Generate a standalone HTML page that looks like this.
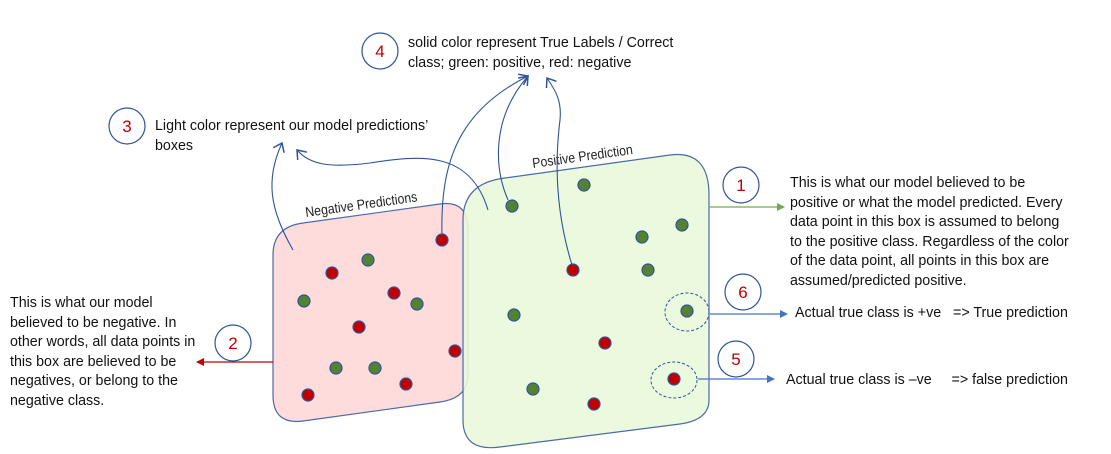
<!DOCTYPE html>
<html><head><meta charset="utf-8"><style>
body{margin:0;background:#fff;width:1111px;height:454px;overflow:hidden;font-family:"Liberation Sans",sans-serif}
.t{position:absolute;font-size:15px;line-height:19.5px;color:#111;white-space:nowrap;transform:scaleX(0.95);transform-origin:0 0}
</style></head><body>
<svg width="1111" height="454" style="position:absolute;left:0;top:0">
<defs>
<marker id="ab" markerWidth="8" markerHeight="8" refX="7" refY="4" orient="auto" markerUnits="userSpaceOnUse"><path d="M0,0 L8,4 L0,8 Z" fill="#4472c4"/></marker>
<marker id="ag" markerWidth="8" markerHeight="8" refX="7" refY="4" orient="auto" markerUnits="userSpaceOnUse"><path d="M0,0 L8,4 L0,8 Z" fill="#70ad47"/></marker>
<marker id="ar" markerWidth="8" markerHeight="8" refX="7" refY="4" orient="auto" markerUnits="userSpaceOnUse"><path d="M0,0 L8,4 L0,8 Z" fill="#c00000"/></marker>
<marker id="open" markerWidth="14" markerHeight="14" refX="10" refY="7" orient="auto" markerUnits="userSpaceOnUse"><path d="M2,1 L10,7 L2,13" fill="none" stroke="#2f5597" stroke-width="1.5"/></marker>
</defs>
<path d="M303,223 L440,204 Q468,200 468,230 L468,375 Q468,398 440,402 L303,421 Q273,425 273,395 L273,255 Q273,227 303,223 Z" fill="#ffdcdc" stroke="#4a6aa8" stroke-width="1.2"/>
<path d="M505,178 L670,155 Q709,150 709,195 L709,400 Q709,420 680,424 L500,447 Q463,452 463,420 L463,220 Q463,183 505,178 Z" fill="#e9f8dc" stroke="#4a6aa8" stroke-width="1.2" fill-opacity="0.9"/>
<text x="0" y="0" font-size="14" fill="#222" transform="translate(306,217) rotate(-8) scale(0.88,1)">Negative Predictions</text>
<text x="0" y="0" font-size="14" fill="#222" transform="translate(533,168) rotate(-8) scale(0.88,1)">Positive Prediction</text>
<g stroke="#2f5597" stroke-width="1.2" fill="#c00000">
<circle cx="442" cy="240" r="6"/><circle cx="332" cy="273" r="6"/><circle cx="394" cy="293" r="6"/><circle cx="359" cy="327" r="6"/><circle cx="455" cy="351" r="6"/><circle cx="406" cy="384" r="6"/><circle cx="308" cy="395" r="6"/><circle cx="573" cy="270" r="6"/><circle cx="605" cy="343" r="6"/><circle cx="594" cy="404" r="6"/><circle cx="674" cy="379" r="6"/>
</g>
<g stroke="#2f5597" stroke-width="1.2" fill="#548235">
<circle cx="368" cy="260" r="6"/><circle cx="304" cy="301" r="6"/><circle cx="417" cy="304" r="6"/><circle cx="336" cy="368" r="6"/><circle cx="375" cy="368" r="6"/><circle cx="512" cy="206" r="6"/><circle cx="584" cy="185" r="6"/><circle cx="642" cy="237" r="6"/><circle cx="682" cy="225" r="6"/><circle cx="648" cy="270" r="6"/><circle cx="514" cy="315" r="6"/><circle cx="533" cy="389" r="6"/><circle cx="687" cy="311" r="6"/>
</g>
<ellipse cx="687" cy="312" rx="22" ry="19" fill="none" stroke="#2f5597" stroke-dasharray="3,2"/>
<ellipse cx="674" cy="380" rx="23" ry="18" fill="none" stroke="#2f5597" stroke-dasharray="3,2"/>
<g fill="#fff" stroke="#2f5597" stroke-width="1.2">
<circle cx="741" cy="185" r="18"/><circle cx="233" cy="343" r="18"/><circle cx="127" cy="126" r="18"/><circle cx="380" cy="51" r="18"/><circle cx="736" cy="359" r="18"/><circle cx="743" cy="292" r="18"/>
</g>
<g fill="#c00000" font-size="17" text-anchor="middle">
<text x="741" y="191">1</text><text x="233" y="349">2</text><text x="127" y="132">3</text><text x="380" y="57">4</text><text x="736" y="365">5</text><text x="743" y="298">6</text>
</g>
<line x1="709" y1="207" x2="784" y2="207" stroke="#70ad47" stroke-width="1.2" marker-end="url(#ag)"/>
<line x1="273" y1="362" x2="197" y2="362" stroke="#c00000" stroke-width="1.2" marker-end="url(#ar)"/>
<line x1="710" y1="314" x2="787" y2="314" stroke="#4472c4" stroke-width="1.2" marker-end="url(#ab)"/>
<line x1="698" y1="379" x2="774" y2="379" stroke="#4472c4" stroke-width="1.2" marker-end="url(#ab)"/>
<g fill="none" stroke="#2f5597" stroke-width="1.1" marker-end="url(#open)">
<path d="M293,250 C270,210 265,180 282,143"/>
<path d="M488,210 C470,150 420,155 370,163 C330,168 310,165 297,150"/>
<path d="M442,235 C440,160 460,110 528,76"/>
<path d="M508,200 C495,170 490,120 528,76"/>
<path d="M572,265 C555,210 555,160 560,120 C562,100 555,90 547,78"/>
</g>
</svg>
<div class="t" style="left:408px;top:33px">solid color represent True Labels / Correct<br>class; green: positive, red: negative</div>
<div class="t" style="left:155px;top:116px">Light color represent our model predictions’<br>boxes</div>
<div class="t" style="left:790px;top:173px">This is what our model believed to be<br>positive or what the model predicted. Every<br>data point in this box is assumed to belong<br>to the positive class. Regardless of the color<br>of the data point, all points in this box are<br>assumed/predicted positive.</div>
<div class="t" style="left:10px;top:293px">This is what our model<br>believed to be negative. In<br>other words, all data points in<br>this box are believed to be<br>negatives, or belong to the<br>negative class.</div>
<div class="t" style="left:795px;top:303px;white-space:pre">Actual true class is +ve   =&gt; True prediction</div>
<div class="t" style="left:786px;top:370px;white-space:pre">Actual true class is –ve     =&gt; false prediction</div>
</body></html>
